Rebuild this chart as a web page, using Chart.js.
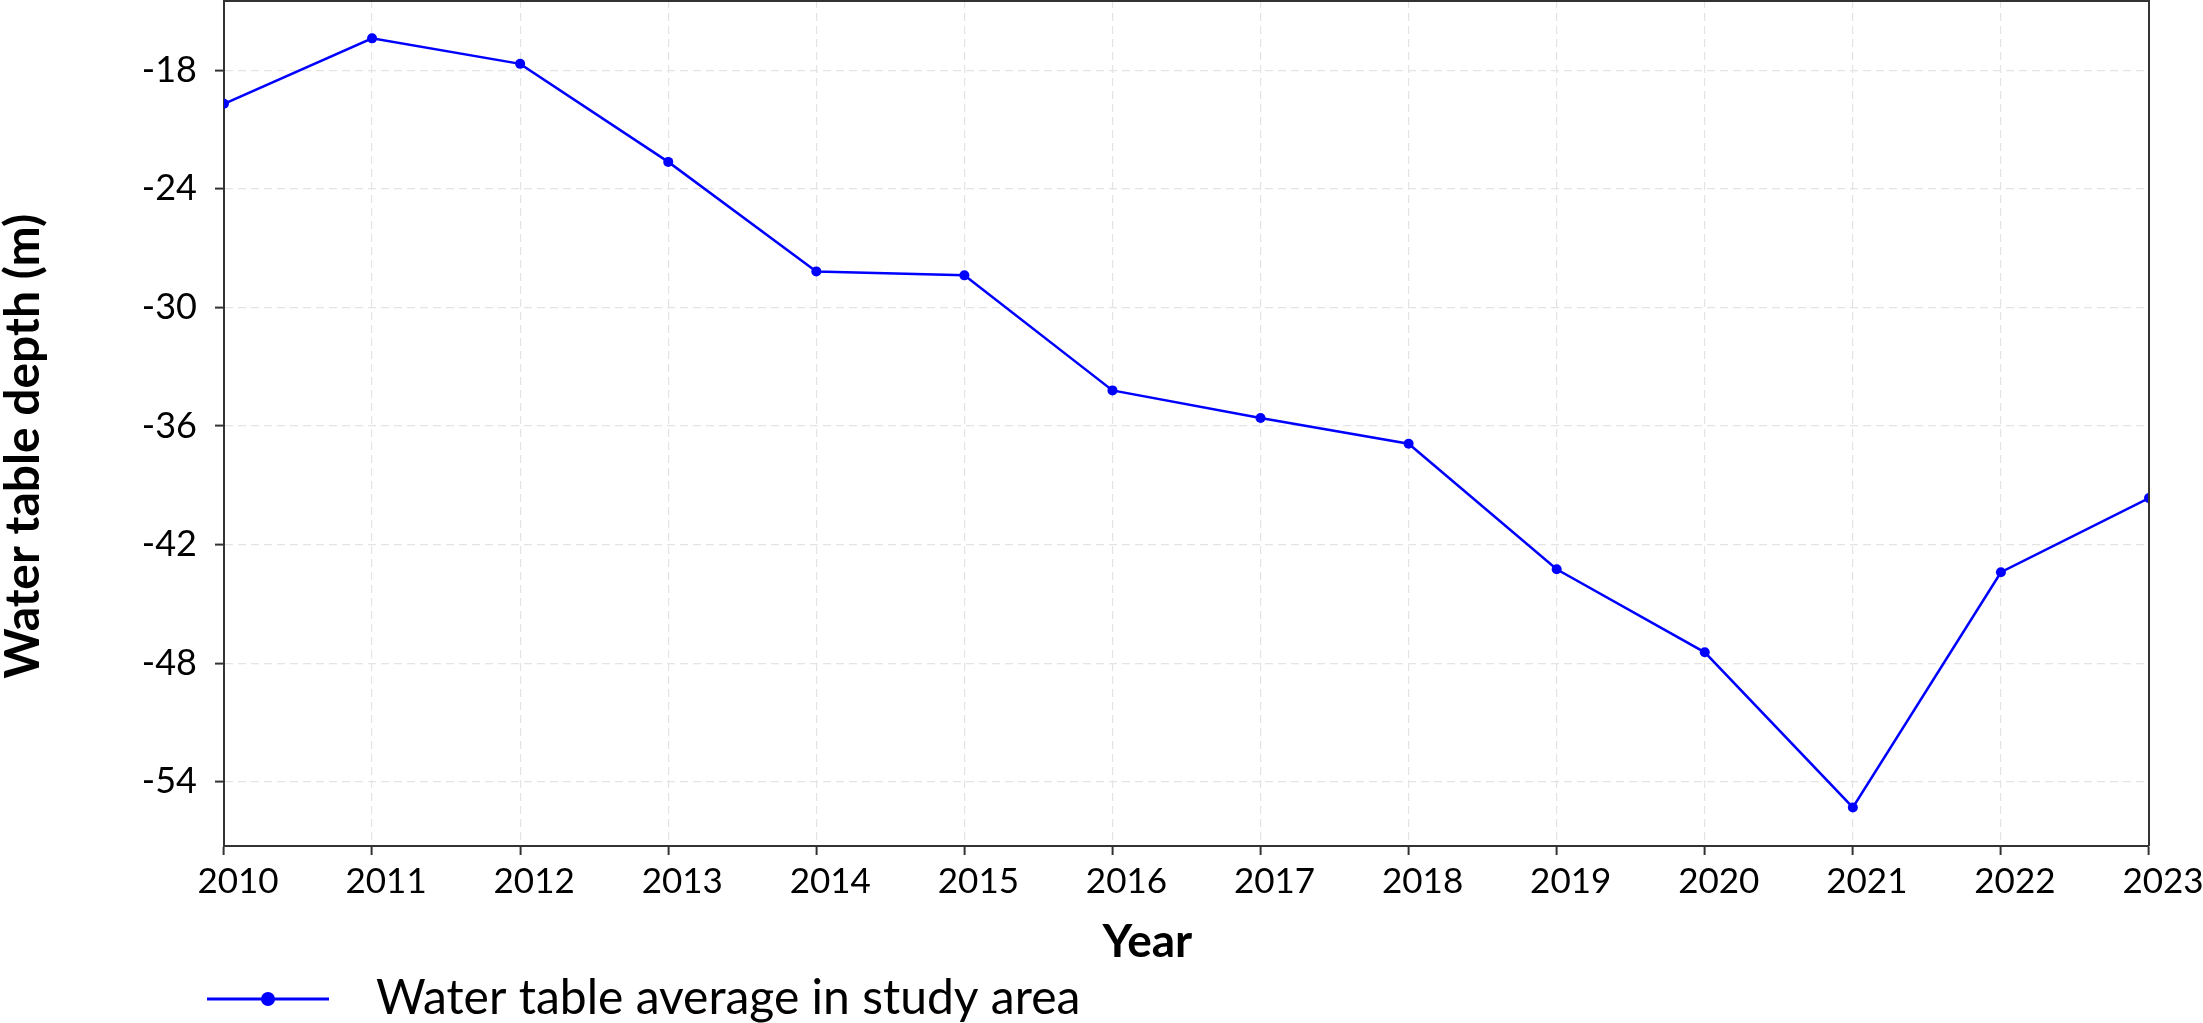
<!DOCTYPE html>
<html>
<head>
<meta charset="utf-8">
<title>Water table depth</title>
<script src="https://cdn.jsdelivr.net/npm/chart.js"></script>
<style>
  html, body { margin: 0; padding: 0; background: #fff; overflow: hidden; }
  #wrap { width: 2203px; height: 1033px; }
</style>
</head>
<body>
<div id="wrap"><canvas id="depth"></canvas></div>
<script>
const years = ['2010', '2011', '2012', '2013', '2014', '2015', '2016',
               '2017', '2018', '2019', '2020', '2021', '2022', '2023'];
const depth = [-19.7, -16.39, -17.68, -22.64, -28.18, -28.38, -34.2,
               -35.6, -36.9, -43.25, -47.45, -55.3, -43.4, -39.65];
const yTicks = [-54, -48, -42, -36, -30, -24, -18];
const seriesLabel = 'Water table average in study area';

const blue = '#0000ff';
const axisColor = '#333333';
const gridColor = '#e4e4e4';
const font = 'Lato';

// legend marker: a short line with a dot, with blank space on the left
function legendSwatch() {
    const c = document.createElement('canvas');
    c.width = 343;
    c.height = 20;
    const g = c.getContext('2d');
    g.strokeStyle = blue;
    g.lineWidth = 3;
    g.beginPath();
    g.moveTo(198, 10);
    g.lineTo(320, 10);
    g.stroke();
    g.fillStyle = blue;
    g.beginPath();
    g.arc(259, 10, 7, 0, Math.PI * 2);
    g.fill();
    return c;
}
const swatch = legendSwatch();

// closes the box on the top and right side
const frame = {
    id: 'frame',
    afterDatasetsDraw(chart) {
        const {ctx, chartArea: a} = chart;
        ctx.save();
        ctx.strokeStyle = axisColor;
        ctx.lineWidth = 2;
        ctx.beginPath();
        ctx.moveTo(a.left, a.top + 1);
        ctx.lineTo(a.right, a.top + 1);
        ctx.lineTo(a.right, a.bottom);
        ctx.stroke();
        ctx.restore();
    }
};

new Chart(document.getElementById('depth'), {
    type: 'line',
    data: {
        labels: years,
        datasets: [{
            label: seriesLabel,
            data: depth,
            borderColor: blue,
            backgroundColor: blue,
            borderWidth: 2.5,
            pointRadius: 5,
            pointBorderWidth: 0,
            pointBackgroundColor: blue,
            tension: 0,
            clip: 0
        }]
    },
    options: {
        responsive: true,
        maintainAspectRatio: false,
        devicePixelRatio: 1,
        animation: false,
        layout: {
            autoPadding: false,
            padding: {top: 0, right: 54, bottom: 0, left: 0}
        },
        scales: {
            x: {
                offset: false,
                grid: {
                    color: gridColor,
                    lineWidth: 1.2,
                    tickColor: axisColor,
                    tickWidth: 2,
                    tickLength: 9
                },
                border: {color: axisColor, width: 2, dash: [8, 5]},
                ticks: {
                    color: '#000',
                    font: {family: font, size: 35},
                    padding: 6,
                    labelOffset: 14,
                    maxRotation: 0,
                    autoSkip: false
                },
                title: {
                    display: true,
                    text: 'Year       ',
                    color: '#000',
                    font: {family: font, size: 46, weight: 'bold', lineHeight: 1.05},
                    padding: {top: 0, bottom: 0}
                },
                afterFit(s) {
                    s.height = 120;
                    s.paddingLeft = 0;
                    s.paddingRight = 0;
                }
            },
            y: {
                min: -57.25,
                max: -14.45,
                afterBuildTicks(s) {
                    s.ticks = yTicks.map(v => ({value: v}));
                },
                grid: {
                    color: gridColor,
                    lineWidth: 1.2,
                    tickColor: axisColor,
                    tickWidth: 2,
                    tickLength: 9
                },
                border: {color: axisColor, width: 2, dash: [8, 5]},
                ticks: {
                    color: '#000',
                    font: {family: font, size: 36},
                    padding: 18
                },
                title: {
                    display: true,
                    text: 'Water table depth (m)    ',
                    color: '#000',
                    font: {family: font, size: 48, weight: 'bold', lineHeight: 1},
                    padding: {top: 0, bottom: 0}
                },
                afterFit(s) {
                    s.width = 224;
                    s.paddingTop = 0;
                    s.paddingBottom = 0;
                }
            }
        },
        plugins: {
            tooltip: {enabled: false},
            legend: {
                position: 'bottom',
                align: 'start',
                labels: {
                    usePointStyle: true,
                    pointStyleWidth: 343,
                    padding: 9,
                    color: '#000',
                    font: {family: font, size: 48},
                    generateLabels: () => [{
                        text: seriesLabel,
                        pointStyle: swatch,
                        fillStyle: blue,
                        strokeStyle: blue,
                        lineWidth: 0,
                        hidden: false,
                        datasetIndex: 0
                    }]
                }
            }
        }
    },
    plugins: [frame]
});
</script>
</body>
</html>
